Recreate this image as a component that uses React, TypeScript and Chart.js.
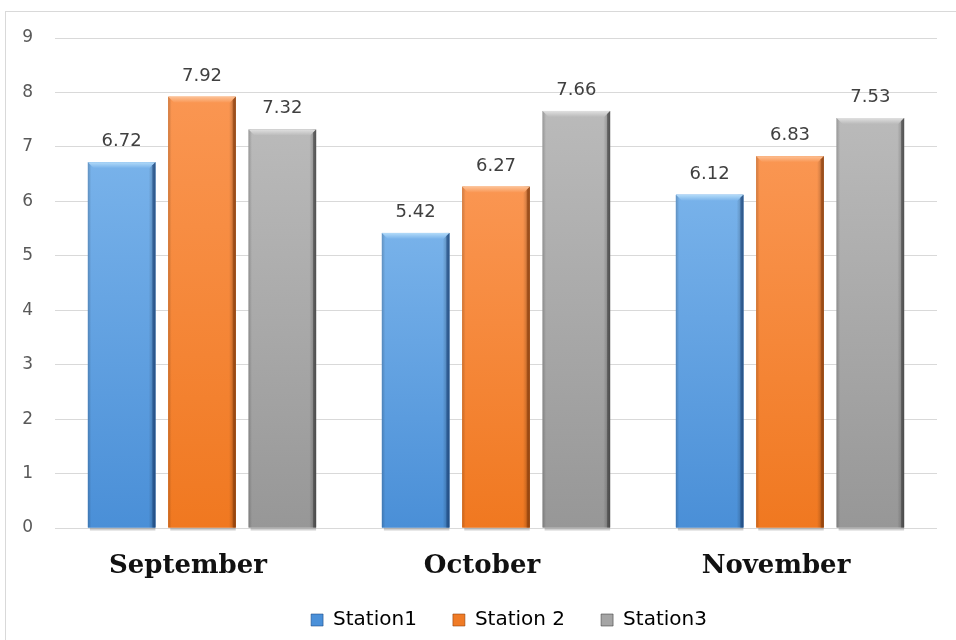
import React, { useEffect, useRef } from "react";
import { Chart, registerables } from "chart.js";

Chart.register(...registerables);

const categories = ["September", "October", "November"];
const seriesNames = ["Station1", "Station 2", "Station3"];
const station1 = [6.72, 5.42, 6.12];
const station2 = [7.92, 6.27, 6.83];
const station3 = [7.32, 7.66, 7.53];
const yMin = 0;
const yMax = 9;
const yStep = 1;

const palettes = [
  { base: "#4a90d9", top: "#78b2ea", bottom: "#4a8fd7", bevel: "#b3dbf9", edge: "rgba(25,70,130,0.55)" },
  { base: "#f07b26", top: "#fa9652", bottom: "#f07820", bevel: "#fcc196", edge: "rgba(140,60,10,0.55)" },
  { base: "#a5a5a5", top: "#bababa", bottom: "#979797", bevel: "#e0e0e0", edge: "rgba(60,60,60,0.55)" },
];

const borderPlugin = {
  id: "outerBorder",
  beforeDraw(chart: any) {
    const ctx = chart.ctx;
    ctx.save();
    ctx.strokeStyle = "#d9d9d9";
    ctx.lineWidth = 1;
    ctx.strokeRect(5.5, 11.5, chart.width + 20, chart.height + 20);
    ctx.restore();
  },
};

const layoutTweakPlugin = {
  id: "layoutTweak",
  afterLayout(chart: any) {
    if (chart.legend) {
      chart.legend.left += 13;
      chart.legend.right += 13;
    }
    if (chart.scales && chart.scales.x) {
      chart.scales.x.bottom += 24;
    }
  },
};

const barStylePlugin = {
  id: "barStyle",
  afterDatasetsDraw(chart: any) {
    const ctx = chart.ctx;
    chart.data.datasets.forEach((ds: any, di: number) => {
      const meta = chart.getDatasetMeta(di);
      const pal = palettes[di];
      meta.data.forEach((bar: any, i: number) => {
        const { x, y, width, base } = bar.getProps(["x", "y", "width", "base"], true);
        const l = x - width / 2;
        const r = x + width / 2;
        const t = y;
        const b = base;
        const bv = 6;
        ctx.save();
        ctx.fillStyle = "rgba(0,0,0,0.18)";
        ctx.fillRect(l + 2, b, width - 2, 3);
        const g = ctx.createLinearGradient(0, t, 0, b);
        g.addColorStop(0, pal.top);
        g.addColorStop(1, pal.bottom);
        ctx.fillStyle = g;
        ctx.fillRect(l, t, width, b - t);
        const hg = ctx.createLinearGradient(l, 0, r, 0);
        hg.addColorStop(0, "rgba(0,0,0,0.18)");
        hg.addColorStop(0.05, "rgba(0,0,0,0.0)");
        hg.addColorStop(0.9, "rgba(0,0,0,0.0)");
        hg.addColorStop(0.95, "rgba(0,0,0,0.15)");
        hg.addColorStop(1, "rgba(0,0,0,0.4)");
        ctx.fillStyle = hg;
        ctx.fillRect(l, t, width, b - t);
        ctx.beginPath();
        ctx.moveTo(l, t);
        ctx.lineTo(r, t);
        ctx.lineTo(r - bv, t + bv);
        ctx.lineTo(l + bv, t + bv);
        ctx.closePath();
        const tg = ctx.createLinearGradient(0, t, 0, t + bv);
        tg.addColorStop(0, pal.bevel);
        tg.addColorStop(1, pal.top);
        ctx.fillStyle = tg;
        ctx.fill();
        ctx.beginPath();
        ctx.moveTo(r, t);
        ctx.lineTo(r, b);
        ctx.lineTo(r - 3, b);
        ctx.lineTo(r - 3, t + 3);
        ctx.closePath();
        ctx.fillStyle = pal.edge;
        ctx.fill();
        ctx.fillStyle = "#404040";
        ctx.font = "18px 'DejaVu Sans'";
        ctx.textAlign = "center";
        ctx.textBaseline = "alphabetic";
        ctx.fillText(ds.data[i].toFixed(2), x, t - 16);
        ctx.restore();
      });
    });
  },
};

export default function App() {
  const ref = useRef<HTMLCanvasElement | null>(null);

  useEffect(() => {
    if (!ref.current) return;
    const series = [station1, station2, station3];
    const chart = new Chart(ref.current, {
      type: "bar",
      data: {
        labels: categories,
        datasets: series.map((d, i) => ({
          label: seriesNames[i],
          data: d,
          backgroundColor: palettes[i].base,
          borderWidth: 0,
          categoryPercentage: 0.82,
          barPercentage: 0.84,
        })),
      },
      options: {
        animation: false,
        responsive: true,
        maintainAspectRatio: false,
        layout: { padding: { top: 38, right: 19, left: 0, bottom: 0 } },
        plugins: {
          tooltip: { enabled: false },
          legend: {
            position: "bottom",
            fullSize: false,
            maxHeight: 67,
            labels: {
              boxWidth: 12,
              boxHeight: 12,
              padding: 36,
              color: "#595959",
              font: { family: "'DejaVu Sans'", size: 20 },
              generateLabels: () =>
                seriesNames.map((n, i) => ({
                  text: n,
                  fillStyle: palettes[i].base,
                  strokeStyle: palettes[i].edge,
                  lineWidth: 1,
                  datasetIndex: i,
                  hidden: false,
                })),
            },
          },
        },
        scales: {
          x: {
            grid: { display: false, drawTicks: false },
            border: { display: false },
            ticks: {
              color: "#111111",
              padding: 23,
              labelOffset: -14,
              font: { family: "'DejaVu Serif'", weight: "bold", size: 26 },
            },
            afterFit: (s: any) => {
              s.height = 46;
            },
          },
          y: {
            min: yMin,
            max: yMax,
            grid: { color: "#d9d9d9", lineWidth: 1, drawTicks: false },
            border: { display: false },
            ticks: {
              stepSize: yStep,
              padding: 22,
              color: "#595959",
              font: { family: "'DejaVu Sans'", size: 17 },
            },
            afterFit: (s: any) => {
              s.width = 55;
            },
          },
        },
      },
      plugins: [borderPlugin, layoutTweakPlugin, barStylePlugin],
    } as any);
    return () => chart.destroy();
  }, []);

  return (
    <div style={{ position: "absolute", left: 0, top: 0, width: 956, height: 640, background: "#ffffff" }}>
      <canvas ref={ref} />
    </div>
  );
}
